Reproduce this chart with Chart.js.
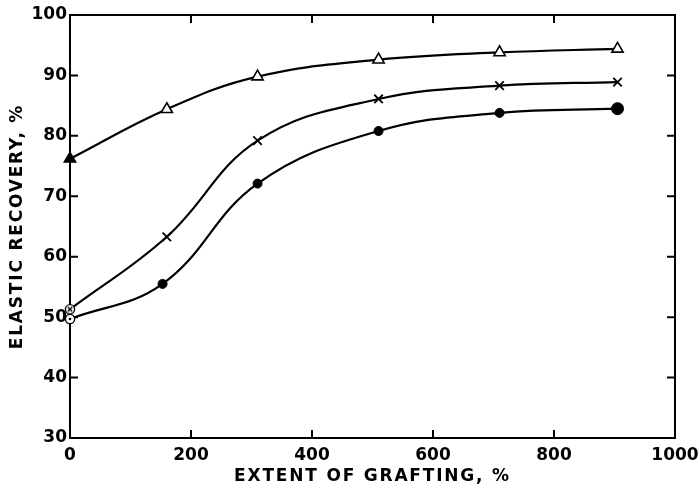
<!DOCTYPE html>
<html>
<head>
<meta charset="utf-8">
<script src="https://cdn.jsdelivr.net/npm/chart.js@4.4.1/dist/chart.umd.min.js"></script>
<style>
  html, body { margin: 0; padding: 0; background: #fff; }
  #wrap { width: 700px; height: 489px; }
</style>
</head>
<body>
<div id="wrap"><canvas id="graft-chart" width="700" height="489"></canvas></div>
<script>
'use strict';

// Extent of grafting (%) and elastic recovery (%)
var extentTriangle = [0, 160, 310, 510, 710, 905];
var recoveryTriangle = [76.2, 84.4, 89.8, 92.6, 93.8, 94.4];

var extentCross = [0, 160, 310, 510, 710, 905];
var recoveryCross = [51.3, 63.3, 79.2, 86.1, 88.3, 88.9];

var extentCircle = [0, 153, 310, 510, 710, 905];
var recoveryCircle = [49.7, 55.5, 72.1, 80.8, 83.8, 84.5];

var xTitle = 'EXTENT OF GRAFTING, %';
var yTitle = 'ELASTIC RECOVERY, %';

var xTicks = [0, 200, 400, 600, 800, 1000];
var yTicks = [30, 40, 50, 60, 70, 80, 90, 100];

function toPoints(xs, ys) {
  return xs.map(function(x, i) {
    return { x: x, y: ys[i] };
  });
}

// small marker images for the two points at zero grafting
function circledMark(kind) {
  var c = document.createElement('canvas');
  c.width = 14;
  c.height = 14;
  var g = c.getContext('2d');
  g.fillStyle = '#fff';
  g.strokeStyle = '#000';
  g.lineWidth = 1.4;
  g.beginPath();
  g.arc(7, 7, 4.6, 0, Math.PI * 2);
  g.fill();
  g.stroke();
  if (kind === 'cross') {
    g.beginPath();
    g.moveTo(4.8, 4.8); g.lineTo(9.2, 9.2);
    g.moveTo(9.2, 4.8); g.lineTo(4.8, 9.2);
    g.stroke();
  } else {
    g.fillStyle = '#000';
    g.beginPath();
    g.arc(7, 7, 1.3, 0, Math.PI * 2);
    g.fill();
  }
  return c;
}

var frameTicks = {
  id: 'frameTicks',
  beforeDatasetsDraw: function(chart) {
    var ctx = chart.ctx;
    var a = chart.chartArea;
    var xs = chart.scales.x;
    var ys = chart.scales.y;
    ctx.save();
    ctx.strokeStyle = '#000';
    ctx.lineWidth = 2;
    ctx.strokeRect(a.left, a.top, a.right - a.left, a.bottom - a.top);
    ctx.beginPath();
    yTicks.forEach(function(v) {
      if (v === yTicks[0] || v === yTicks[yTicks.length - 1]) return;
      var y = ys.getPixelForValue(v);
      ctx.moveTo(a.left, y); ctx.lineTo(a.left + 8, y);
      ctx.moveTo(a.right, y); ctx.lineTo(a.right - 8, y);
    });
    xTicks.forEach(function(v) {
      if (v === xTicks[0] || v === xTicks[xTicks.length - 1]) return;
      var x = xs.getPixelForValue(v);
      ctx.moveTo(x, a.bottom); ctx.lineTo(x, a.bottom - 8);
      ctx.moveTo(x, a.top); ctx.lineTo(x, a.top + 8);
    });
    ctx.stroke();

    // axis titles, spaced out like the lettering in the original
    ctx.fillStyle = '#000';
    ctx.font = 'bold 17px "DejaVu Sans"';
    ctx.letterSpacing = '1.8px';
    ctx.textAlign = 'center';
    ctx.textBaseline = 'middle';
    ctx.fillText(xTitle, (a.left + a.right) / 2, 477);
    ctx.translate(18, (a.top + a.bottom) / 2);
    ctx.rotate(-Math.PI / 2);
    ctx.fillText(yTitle, 0, 0);
    ctx.restore();
  }
};

Chart.defaults.font.family = '"DejaVu Sans"';
Chart.defaults.font.weight = 'bold';
Chart.defaults.font.size = 17;
Chart.defaults.color = '#000';

var ctx = document.getElementById('graft-chart').getContext('2d');

var chart = new Chart(ctx, {
  type: 'line',
  data: {
    datasets: [
      {
        data: toPoints(extentTriangle, recoveryTriangle),
        borderColor: '#000',
        borderWidth: 2.2,
        tension: 0.4,
        clip: false,
        pointStyle: 'triangle',
        pointRadius: 6.5,
        pointBorderWidth: 1.6,
        pointBorderColor: '#000',
        pointBackgroundColor: ['#000', '#fff', '#fff', '#fff', '#fff', '#fff']
      },
      {
        data: toPoints(extentCross, recoveryCross),
        borderColor: '#000',
        borderWidth: 2.2,
        tension: 0.4,
        clip: false,
        pointStyle: [circledMark('cross'), 'crossRot', 'crossRot', 'crossRot', 'crossRot', 'crossRot'],
        pointRadius: 6,
        pointBorderWidth: 1.8,
        pointBorderColor: '#000',
        pointBackgroundColor: '#000'
      },
      {
        data: toPoints(extentCircle, recoveryCircle),
        borderColor: '#000',
        borderWidth: 2.2,
        tension: 0.4,
        clip: false,
        pointStyle: [circledMark('dot'), 'circle', 'circle', 'circle', 'circle', 'circle'],
        pointRadius: [5, 4.5, 4.5, 4.5, 4.5, 6],
        pointBorderWidth: 1,
        pointBorderColor: '#000',
        pointBackgroundColor: '#000'
      }
    ]
  },
  options: {
    responsive: false,
    animation: false,
    layout: { padding: { top: 15, right: 25, left: 0, bottom: 0 } },
    plugins: {
      legend: { display: false },
      tooltip: { enabled: false }
    },
    scales: {
      x: {
        type: 'linear',
        min: 0,
        max: 1000,
        grid: { display: false, drawTicks: false },
        border: { display: false },
        ticks: {
          stepSize: 200,
          padding: 7,
          maxRotation: 0,
          callback: function(v) { return String(v); }
        },
        afterFit: function(s) {
          s.height = 51;
          s.paddingLeft = 0;
          s.paddingRight = 0;
        }
      },
      y: {
        min: 30,
        max: 100,
        grid: { display: false, drawTicks: false },
        border: { display: false },
        ticks: { stepSize: 10, padding: 3 },
        afterFit: function(s) {
          s.width = 70;
          s.paddingTop = 0;
          s.paddingBottom = 0;
        }
      }
    }
  },
  plugins: [frameTicks]
});
</script>
</body>
</html>
